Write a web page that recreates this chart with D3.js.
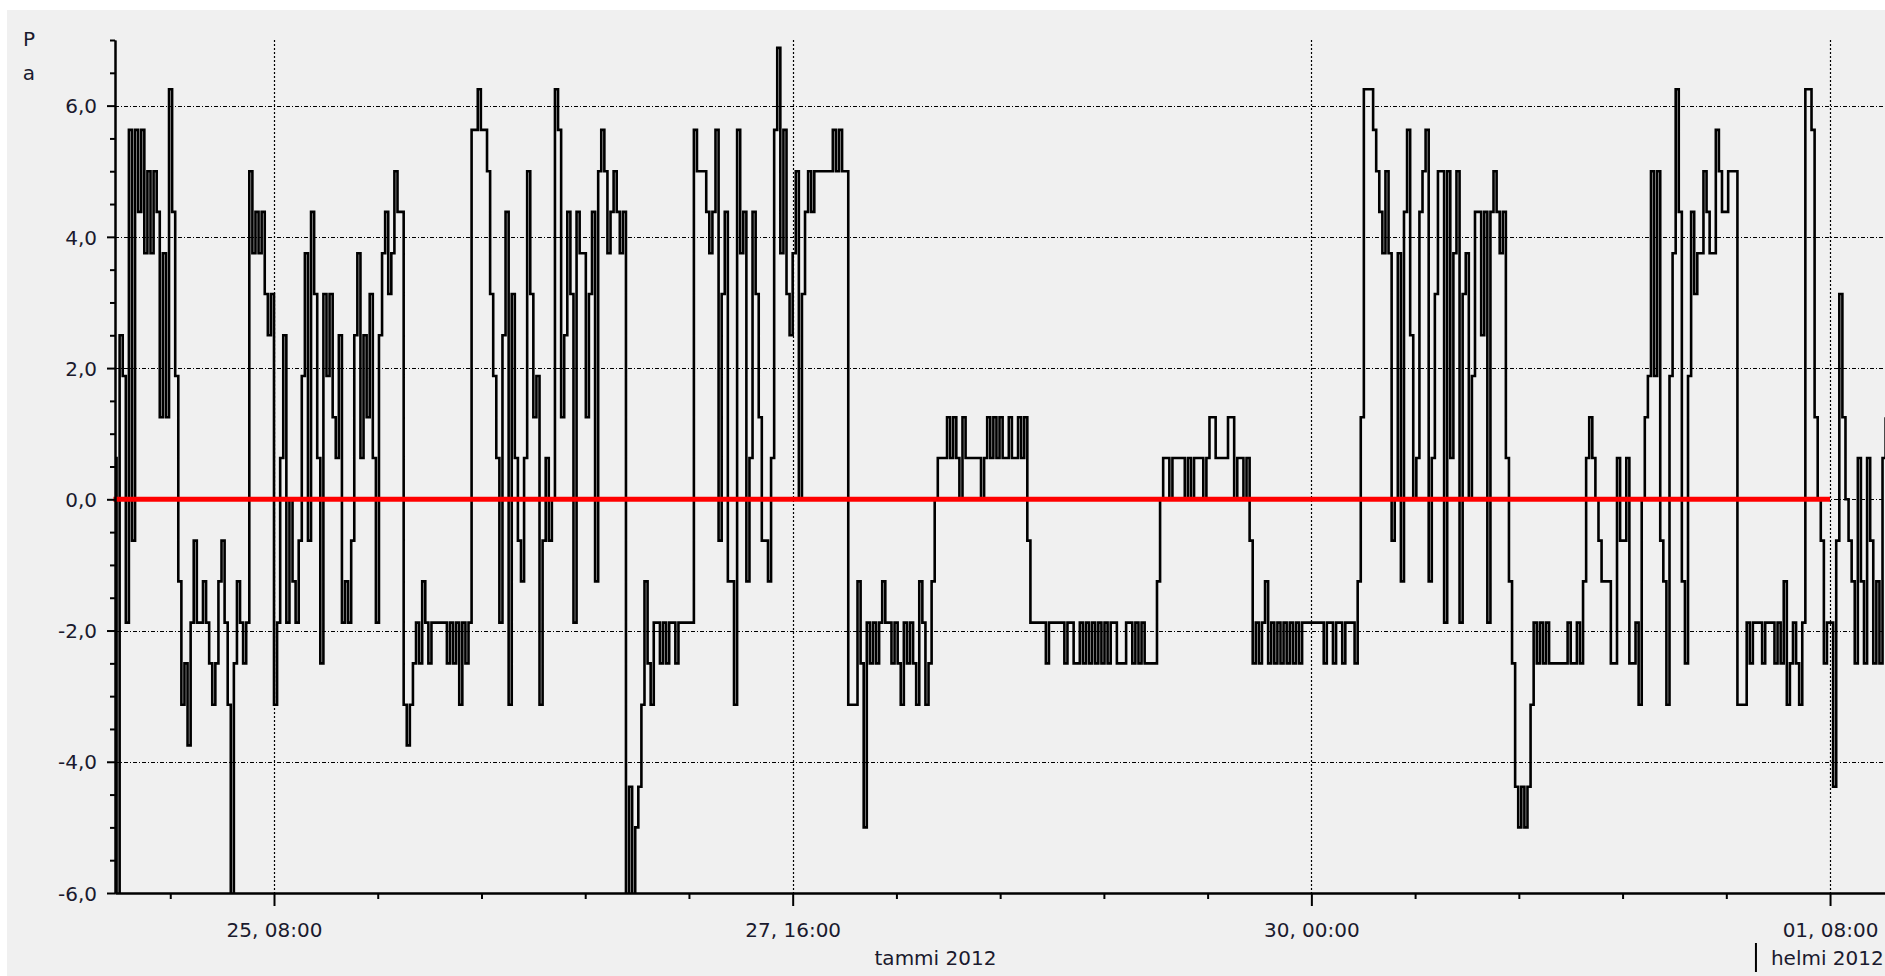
<!DOCTYPE html>
<html>
<head>
<meta charset="utf-8">
<script src="https://cdn.jsdelivr.net/npm/d3@7"></script>
<style>
html, body { margin: 0; padding: 0; background: #fff; overflow: hidden; }
svg { display: block; font-family: "DejaVu Sans", Verdana, sans-serif; }
</style>
</head>
<body>
<div id="chart"></div>
<script>
// pressure difference (Pa), one reading per 20 minutes, chunked by day
const chunkStarts = ["2012-01-24 14:40", "2012-01-25 00:00", "2012-01-26 00:00", "2012-01-27 00:00",
    "2012-01-28 00:00", "2012-01-29 00:00", "2012-01-30 00:00", "2012-01-31 00:00", "2012-02-01 00:00"]

const jan24 = [0.63, -6.25, 2.5, 1.88, -1.88, 5.63, -0.63, 5.63, 4.38, 5.63,
    3.75, 5, 3.75, 5, 4.38, 1.25, 3.75, 1.25, 6.25, 4.38,
    1.88, -1.25, -3.13, -2.5, -3.75, -1.88, -0.63, -1.88]

const jan25 = [-1.88, -1.25, -1.88, -2.5, -3.13, -2.5, -1.25, -0.63, -1.88, -3.13,
    -6.25, -2.5, -1.25, -1.88, -2.5, -1.88, 5, 3.75, 4.38, 3.75,
    4.38, 3.13, 2.5, 3.13, -3.13, -1.88, 0.63, 2.5, -1.88, 0,
    -1.25, -1.88, -0.63, 1.88, 3.75, -0.63, 4.38, 3.13, 0.63, -2.5,
    3.13, 1.88, 3.13, 1.25, 0.63, 2.5, -1.88, -1.25, -1.88, -0.63,
    2.5, 3.75, 0.63, 2.5, 1.25, 3.13, 0.63, -1.88, 2.5, 3.75,
    4.38, 3.13, 3.75, 5, 4.38, 4.38, -3.13, -3.75, -3.13, -2.5,
    -1.88, -2.5]

const jan26 = [-1.25, -1.88, -2.5, -1.88, -1.88, -1.88, -1.88, -1.88, -2.5, -1.88,
    -2.5, -1.88, -3.13, -1.88, -2.5, -1.88, 5.63, 5.63, 6.25, 5.63,
    5.63, 5, 3.13, 1.88, 0.63, -1.88, 2.5, 4.38, -3.13, 3.13,
    0.63, -0.63, -1.25, 0.63, 5, 3.13, 1.25, 1.88, -3.13, -0.63,
    0.63, -0.63, 0, 6.25, 5.63, 1.25, 2.5, 4.38, 3.13, -1.88,
    4.38, 3.75, 3.75, 1.25, 3.13, 4.38, -1.25, 5, 5.63, 5,
    3.75, 4.38, 5, 4.38, 3.75, 4.38, -6.25, -4.38, -6.25, -5,
    -4.38, -3.13]

const jan27 = [-1.25, -2.5, -3.13, -1.88, -1.88, -2.5, -1.88, -2.5, -1.88, -1.88,
    -2.5, -1.88, -1.88, -1.88, -1.88, -1.88, 5.63, 5, 5, 5,
    4.38, 3.75, 4.38, 5.63, -0.63, 3.13, 4.38, -1.25, -1.25, -3.13,
    5.63, 3.75, 4.38, -1.25, 0.63, 4.38, 3.13, 1.25, -0.63, -0.63,
    -1.25, 0.63, 5.63, 6.88, 3.75, 5.63, 3.13, 2.5, 3.75, 5,
    0, 3.13, 4.38, 5, 4.38, 5, 5, 5, 5, 5,
    5, 5.63, 5, 5.63, 5, 5, -3.13, -3.13, -3.13, -1.25,
    -2.5, -5]

const jan28 = [-1.88, -2.5, -1.88, -2.5, -1.88, -1.25, -1.88, -1.88, -2.5, -1.88,
    -2.5, -3.13, -1.88, -2.5, -1.88, -2.5, -3.13, -1.25, -1.88, -3.13,
    -2.5, -1.25, 0, 0.63, 0.63, 0.63, 1.25, 0.63, 1.25, 0.63,
    0, 1.25, 0.63, 0.63, 0.63, 0.63, 0.63, 0, 0.63, 1.25,
    0.63, 1.25, 0.63, 1.25, 0.63, 0.63, 1.25, 0.63, 0.63, 1.25,
    0.63, 1.25, -0.63, -1.88, -1.88, -1.88, -1.88, -1.88, -2.5, -1.88,
    -1.88, -1.88, -1.88, -1.88, -2.5, -1.88, -1.88, -2.5, -2.5, -1.88,
    -2.5, -1.88]

const jan29 = [-2.5, -1.88, -2.5, -1.88, -2.5, -1.88, -2.5, -1.88, -1.88, -2.5,
    -2.5, -2.5, -1.88, -1.88, -2.5, -1.88, -2.5, -1.88, -2.5, -2.5,
    -2.5, -2.5, -1.25, 0, 0.63, 0.63, 0, 0.63, 0.63, 0.63,
    0.63, 0, 0.63, 0, 0.63, 0.63, 0.63, 0, 0.63, 1.25,
    1.25, 0.63, 0.63, 0.63, 0.63, 1.25, 1.25, 0, 0.63, 0.63,
    0, 0.63, -0.63, -2.5, -1.88, -2.5, -1.88, -1.25, -2.5, -1.88,
    -2.5, -1.88, -2.5, -1.88, -2.5, -1.88, -2.5, -1.88, -2.5, -1.88,
    -1.88, -1.88]

const jan30 = [-1.88, -1.88, -1.88, -1.88, -2.5, -1.88, -1.88, -2.5, -1.88, -1.88,
    -2.5, -1.88, -1.88, -1.88, -2.5, -1.25, 1.25, 6.25, 6.25, 6.25,
    5.63, 5, 4.38, 3.75, 5, 3.75, -0.63, 0, 3.75, -1.25,
    4.38, 5.63, 2.5, 0, 0.63, 4.38, 5, 5.63, -1.25, 0.63,
    3.13, 5, 5, -1.88, 5, 0.63, 3.75, 5, -1.88, 3.13,
    3.75, 0, 1.88, 4.38, 4.38, 2.5, 4.38, -1.88, 4.38, 5,
    4.38, 3.75, 4.38, 0.63, -1.25, -2.5, -4.38, -5, -4.38, -5,
    -4.38, -3.13]

const jan31 = [-1.88, -2.5, -1.88, -2.5, -1.88, -2.5, -2.5, -2.5, -2.5, -2.5,
    -2.5, -1.88, -2.5, -2.5, -1.88, -2.5, -1.25, 0.63, 1.25, 0.63,
    0, -0.63, -1.25, -1.25, -1.25, -2.5, -2.5, 0.63, -0.63, -0.63,
    0.63, -2.5, -2.5, -1.88, -3.13, 0, 1.25, 1.88, 5, 1.88,
    5, -0.63, -1.25, -3.13, 1.88, 3.75, 6.25, 4.38, -1.25, -2.5,
    1.88, 4.38, 3.13, 3.75, 3.75, 5, 4.38, 3.75, 3.75, 5.63,
    5, 4.38, 4.38, 5, 5, 5, -3.13, -3.13, -3.13, -1.88,
    -2.5, -1.88]

const feb01 = [-1.88, -1.88, -2.5, -1.88, -1.88, -1.88, -2.5, -1.88, -2.5, -1.25,
    -3.13, -2.5, -1.88, -2.5, -3.13, -1.88, 6.25, 6.25, 5.63, 1.25,
    0, -0.63, -2.5, -1.88, -1.88, -4.38, -0.63, 3.13, 1.25, 0,
    -0.63, -1.25, -2.5, 0.63, -1.25, -2.5, 0.63, -0.63, -2.5, -1.25,
    -2.5, 0.63, 1.25]

// red reference level
const refTimes = ["2012-01-24 14:40", "2012-02-01 08:00"]
const refValues = [0, 0]

const yTicks = [-6, -4, -2, 0, 2, 4, 6]
const xTicks = ["2012-01-25 08:00", "2012-01-27 16:00", "2012-01-30 00:00", "2012-02-01 08:00"]
const monthNames = ["tammi 2012", "helmi 2012"]
const monthStarts = ["2012-01-01 00:00", "2012-02-01 00:00"]
const unitLabel = "Pa"

const parse = d3.timeParse("%Y-%m-%d %H:%M")
const chunks = [jan24, jan25, jan26, jan27, jan28, jan29, jan30, jan31, feb01]

const series = []
chunks.forEach((vals, ci) => {
    const t0 = parse(chunkStarts[ci])
    vals.forEach((v, i) => series.push({date: d3.timeMinute.offset(t0, i * 20), value: v}))
})
const ref = refTimes.map((t, i) => ({date: parse(t), value: refValues[i]}))

const W = 1885, H = 976
const plotL = 115, plotR = 1885, plotT = 40, plotB = 893

const svg = d3.select("#chart").append("svg")
    .attr("width", W)
    .attr("height", H)

svg.append("rect")
    .attr("x", 7).attr("y", 10)
    .attr("width", W - 7).attr("height", H - 10)
    .attr("fill", "#f0f0f0")

const x = d3.scaleTime()
    .domain([parse("2012-01-24 14:50"), parse("2012-02-01 13:56")])
    .range([plotL, plotR])

const y = d3.scaleLinear()
    .domain([-6, 7])
    .range([plotB, plotT])

const fiLocale = d3.formatLocale({decimal: ",", thousands: " ", grouping: [3], currency: ["", "€"], minus: "-"})
const yFmt = fiLocale.format(".1f")

// grid
const majorX = xTicks.map(parse)
svg.append("g").selectAll("line")
    .data(yTicks.filter(d => d > -6)).enter()
    .append("line")
    .attr("x1", plotL).attr("x2", plotR)
    .attr("y1", d => Math.round(y(d)) + 0.5)
    .attr("y2", d => Math.round(y(d)) + 0.5)
    .attr("stroke", "#000")
    .attr("stroke-width", 1.2)
    .attr("stroke-dasharray", "4,2,1,2")

svg.append("g").selectAll("line")
    .data(majorX).enter()
    .append("line")
    .attr("x1", d => Math.round(x(d)) + 0.5)
    .attr("x2", d => Math.round(x(d)) + 0.5)
    .attr("y1", plotT).attr("y2", plotB)
    .attr("stroke", "#000")
    .attr("stroke-width", 1.2)
    .attr("stroke-dasharray", "2,2")

// data
svg.append("clipPath").attr("id", "plot")
    .append("rect")
    .attr("x", plotL).attr("y", plotT)
    .attr("width", plotR - plotL).attr("height", plotB - plotT)

const line = d3.line()
    .x(d => x(d.date))
    .y(d => y(d.value))
    .curve(d3.curveStepAfter)

svg.append("path")
    .datum(series)
    .attr("clip-path", "url(#plot)")
    .attr("fill", "none")
    .attr("stroke", "#000")
    .attr("stroke-width", 2.6)
    .attr("d", line)

svg.append("path")
    .datum(ref)
    .attr("fill", "none")
    .attr("stroke", "#ff0000")
    .attr("stroke-width", 5)
    .attr("d", line)

// axes
const minorY = d3.range(-6, 7.01, 0.5).filter(v => !yTicks.includes(v))
svg.append("g")
    .attr("transform", `translate(${plotL},0)`)
    .call(d3.axisLeft(y).tickValues(minorY).tickSize(5).tickSizeOuter(0).tickFormat(""))
const yMajor = svg.append("g")
    .attr("transform", `translate(${plotL},0)`)
    .call(d3.axisLeft(y).tickValues(yTicks).tickSize(8).tickSizeOuter(0).tickPadding(10).tickFormat(yFmt))

const step = 56 * 60 // minutes between labelled ticks
const minorX = d3.range(-2, 25).map(k => d3.timeMinute.offset(majorX[0], k * step / 5))
    .filter(d => x(d) > plotL && x(d) <= plotR && !majorX.some(m => +m === +d))
svg.append("g")
    .attr("transform", `translate(0,${plotB})`)
    .call(d3.axisBottom(x).tickValues(minorX).tickSize(6).tickSizeOuter(0).tickFormat(""))
svg.append("g")
    .attr("transform", `translate(0,${plotB})`)
    .call(d3.axisBottom(x).tickValues(majorX).tickSize(13).tickSizeOuter(0).tickPadding(17)
        .tickFormat(d3.timeFormat("%d, %H:%M")))

svg.selectAll(".domain, .tick line")
    .attr("stroke", "#000")
    .attr("stroke-width", 2)
svg.selectAll(".tick text")
    .attr("fill", "#1a1a2e")
    .style("font-size", "20px")
    .style("font-family", "'DejaVu Sans', Verdana, sans-serif")
yMajor.selectAll(".tick text").attr("dy", "0.36em")

// month labels
const monthEnds = [parse(monthStarts[1]), x.domain()[1]]
monthNames.forEach((name, i) => {
    const a = d3.max([parse(monthStarts[i]), x.domain()[0]])
    const b = monthEnds[i]
    if (i === 0) {
        svg.append("text")
            .attr("x", (x(a) + x(b)) / 2)
            .attr("y", 965)
            .attr("text-anchor", "middle")
            .attr("fill", "#1a1a2e")
            .style("font-size", "20px")
            .text(name)
    } else {
        svg.append("line")
            .attr("x1", x(a)).attr("x2", x(a))
            .attr("y1", 943).attr("y2", 972)
            .attr("stroke", "#000").attr("stroke-width", 2)
        svg.append("text")
            .attr("x", x(a) + 15)
            .attr("y", 965)
            .attr("fill", "#1a1a2e")
            .style("font-size", "20px")
            .text(name)
    }
})

// unit label written downwards
svg.append("g").selectAll("text")
    .data(unitLabel.split("")).enter()
    .append("text")
    .attr("x", 29)
    .attr("y", (d, i) => 46 + i * 34)
    .attr("text-anchor", "middle")
    .attr("fill", "#1a1a2e")
    .style("font-size", "20px")
    .text(d => d)
</script>
</body>
</html>
